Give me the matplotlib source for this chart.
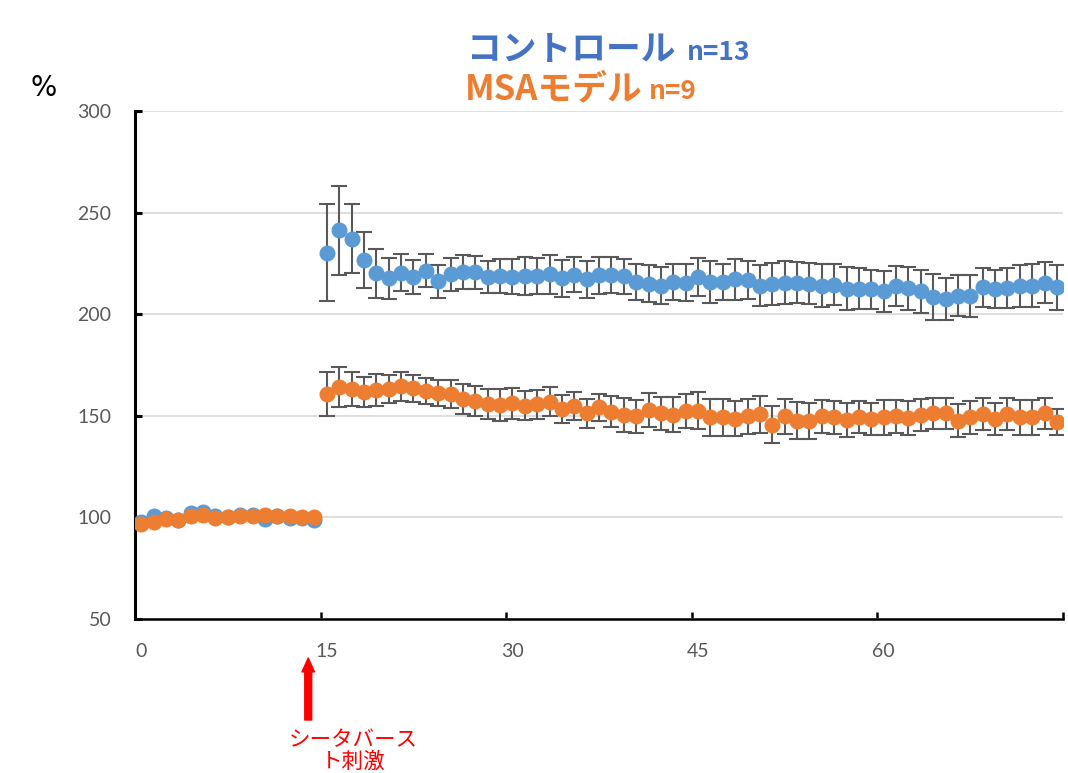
import matplotlib
matplotlib.use("Agg")
import matplotlib.pyplot as plt

plt.rcParams['font.family'] = ['Noto Sans CJK JP', 'DejaVu Sans']

BLUE = "#5B9BD5"
ORANGE = "#ED7D31"

# time points (min); stimulation after point 14
pre_time = list(range(0, 15))
post_time = list(range(15, 75))

ctrl_pre = [97.5, 100.8, 99.5, 98.5, 102.0, 102.5, 100.5, 100.0, 101.0, 101.0,
            99.0, 100.5, 99.5, 99.5, 98.8]
msa_pre = [96.9, 97.6, 99.3, 98.7, 100.9, 101.2, 99.8, 100.2, 100.7, 100.7,
           101.1, 100.5, 100.8, 100.0, 100.0]

ctrl_post = [230.3, 241.3, 237.2, 226.8, 220.2, 217.6, 220.4, 218.3, 221.5, 216.1,
             219.6, 220.6, 220.6, 218.3, 218.8, 218.4, 218.8, 218.8, 219.6, 217.6,
             219.4, 217.1, 219.1, 219.4, 218.6, 215.8, 215.0, 214.1, 215.8, 215.5,
             218.3, 215.8, 215.8, 217.1, 216.9, 214.1, 215.0, 215.5, 215.5, 215.0,
             214.1, 214.5, 212.5, 212.5, 212.2, 211.2, 213.8, 212.8, 211.3, 208.4,
             207.6, 209.2, 208.9, 213.3, 212.5, 212.8, 213.8, 214.1, 215.5, 213.3]
ctrl_sem = [24, 22, 17, 13.7, 12, 10, 9, 8.2, 8.3, 8.2,
            8, 8.4, 8.2, 8, 8.5, 8.7, 9.2, 9, 9.5, 9,
            8.6, 9.2, 9.2, 8.9, 8.7, 8.9, 9, 9.1, 9, 9,
            9.3, 10.3, 9, 9.9, 9.5, 10, 10.3, 10.5, 10, 10,
            10.6, 10, 10.5, 10, 9.7, 10.3, 9.9, 10.6, 10.6, 11.2,
            10.4, 10.2, 10.2, 9.6, 9.5, 9.9, 10.2, 10.7, 10.2, 11]

msa_post = [160.7, 164.0, 163.1, 161.8, 162.6, 163.1, 164.5, 163.5, 162.3, 161.2,
            160.7, 158.2, 157.4, 155.7, 155.2, 156.1, 154.9, 155.6, 156.9, 153.3,
            154.9, 151.3, 154.1, 152.1, 150.5, 149.7, 152.9, 151.3, 150.5, 152.3,
            152.5, 149.2, 149.2, 148.5, 149.7, 150.8, 145.7, 149.7, 147.5, 147.5,
            149.7, 149.2, 147.8, 149.2, 148.4, 149.2, 149.7, 148.8, 150.6, 151.3,
            151.3, 147.5, 149.2, 150.8, 148.4, 150.8, 149.2, 149.2, 151.3, 147.0]
msa_sem = [10.7, 9.8, 8.3, 7.4, 7.9, 7, 7.2, 6.6, 6.3, 6.6,
           7, 7.4, 7.4, 7.4, 7.9, 7.5, 7.1, 7.2, 7.1, 7,
           7, 7.2, 6.6, 7.7, 8.5, 8.2, 8.2, 8.2, 8.7, 8.2,
           9, 9, 9, 8.6, 8.8, 9.1, 9.3, 8.5, 9.1, 9,
           8, 8, 8.3, 7.9, 7.9, 8.4, 8.2, 8.4, 7.9, 7.7,
           7.7, 8.1, 8, 7.9, 8, 8, 8.5, 8.6, 7.7, 6.3]

y_ticks = [50, 100, 150, 200, 250, 300]
x_labels = [0, 15, 30, 45, 60]

fig = plt.figure(figsize=(10.68, 7.73), dpi=100)
ax = fig.add_axes([0.1264, 0.1992, 0.869, 0.6572])

err_kw = dict(fmt="o", ms=10.5, ecolor="#595959", elinewidth=1.5,
              capsize=5.5, capthick=1.5, zorder=3)
ax.errorbar(post_time, ctrl_post, yerr=ctrl_sem, color=BLUE, mec=BLUE, **err_kw)
ax.plot(pre_time, ctrl_pre, "o", ms=10.5, color=BLUE, zorder=3)
ax.errorbar(post_time, msa_post, yerr=msa_sem, color=ORANGE, mec=ORANGE, **err_kw)
ax.plot(pre_time, msa_pre, "o", ms=10.5, color=ORANGE, zorder=4)

ax.set_xlim(-0.5, 74.5)
ax.set_ylim(50, 300)
ax.set_yticks(y_ticks)
ax.grid(axis="y", color="#D9D9D9", lw=1.2, zorder=0)
ax.set_axisbelow(True)

# tick marks sit between categories, labels on the categories
ax.set_xticks([-0.5, 14.5, 29.5, 44.5, 59.5, 74.5])
ax.set_xticklabels([])
ax.set_xticks(x_labels, minor=True)
ax.set_xticklabels([str(v) for v in x_labels], minor=True)
ax.tick_params(axis="x", which="major", direction="in", length=5, width=1.8, color="black")
ax.tick_params(axis="x", which="minor", length=0, pad=17, labelsize=14, labelcolor="#595959")
ax.tick_params(axis="y", direction="in", length=5, width=2.2, color="black",
               pad=17, labelsize=14, labelcolor="#595959")
for lab in ax.get_xticklabels(minor=True) + ax.get_yticklabels():
    lab.set_family(["Lato", "DejaVu Sans"])

for s in ("top", "right"):
    ax.spines[s].set_visible(False)
ax.spines["left"].set_linewidth(2.2)
ax.spines["bottom"].set_linewidth(1.8)

fig.text(30 / 1068, 1 - 88 / 773, "%", fontsize=20, va="center", color="black",
         family=["DejaVu Sans"])

# two-line colored title, small "n=" after the group name
fig.canvas.draw()
renderer = fig.canvas.get_renderer()
title_rows = [("コントロール", "n=13", "#4472C4", 467, 60, 11),
              ("MSAモデル", "n=9", ORANGE, 465, 99, 6)]
for name, n_txt, col, x0, y_base, gap in title_rows:
    t = fig.text(x0 / 1068, 1 - y_base / 773, name, fontsize=25, fontweight="bold",
                 color=col, va="baseline")
    bb = t.get_window_extent(renderer)
    fig.text((bb.x1 + gap) / 1068, 1 - y_base / 773, n_txt, fontsize=19,
             fontweight="bold", color=col, va="baseline")

# stimulation marker below the axis
ax.annotate("", xy=(13.5, 1 - 658 / 773), xytext=(13.5, 1 - 720 / 773),
            xycoords=("data", "figure fraction"), textcoords=("data", "figure fraction"),
            arrowprops=dict(width=5, headwidth=9, headlength=10, color="red", shrink=0),
            annotation_clip=False)
fig.text(353 / 1068, 1 - 729 / 773, "シータバース\nト刺激", fontsize=15.5, color="red",
         ha="center", va="top", linespacing=1.0, multialignment="center")

fig.savefig("out.png", dpi=100)
